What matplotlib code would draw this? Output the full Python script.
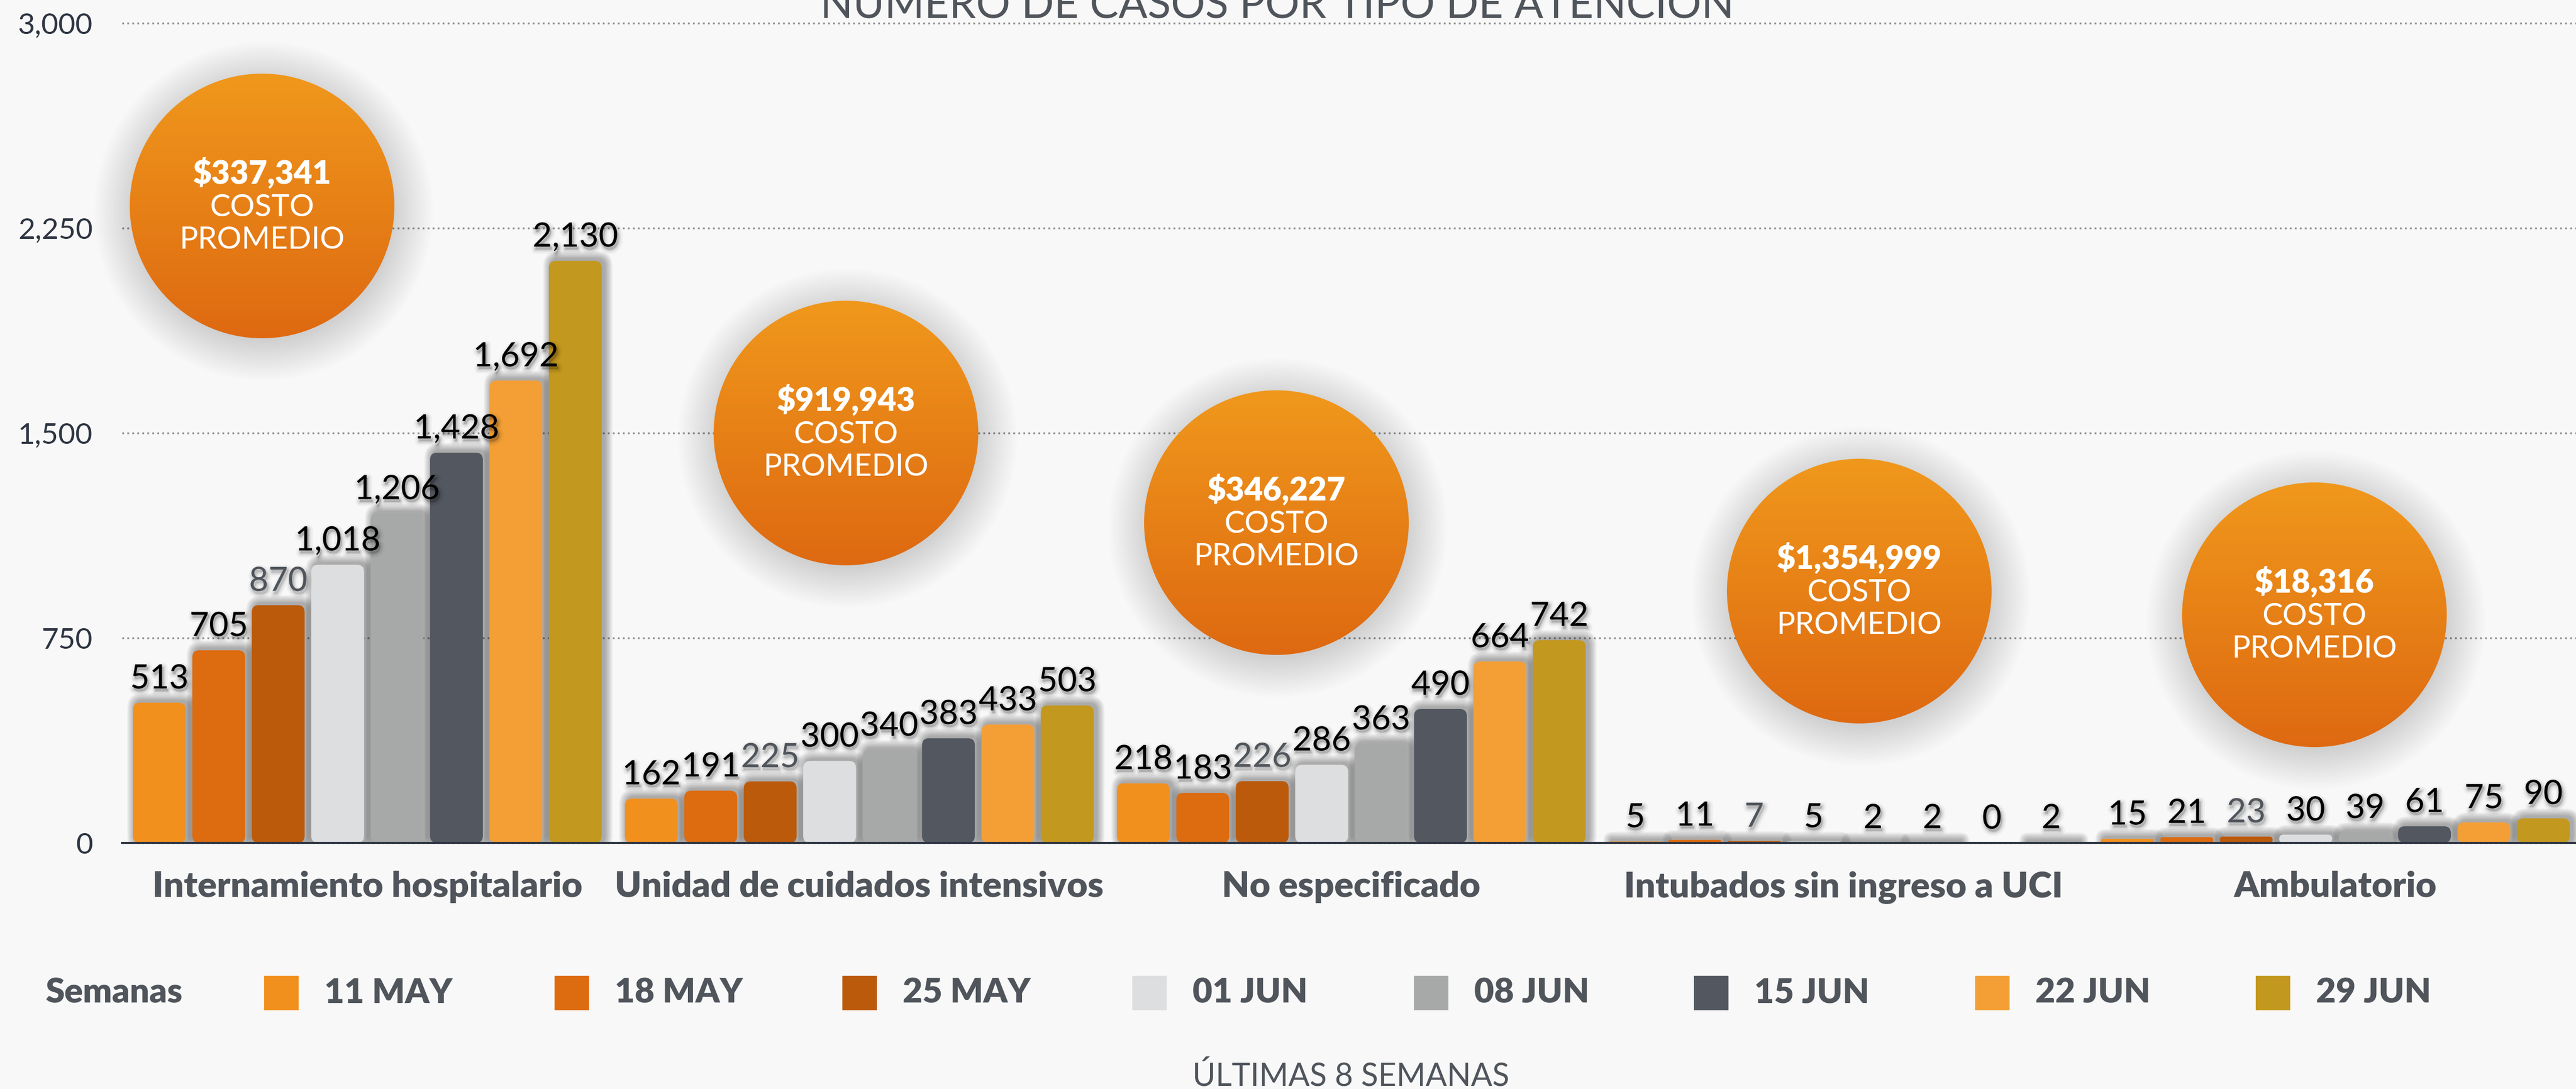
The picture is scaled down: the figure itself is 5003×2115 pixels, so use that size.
import matplotlib
matplotlib.use("Agg")
import matplotlib.pyplot as plt
import numpy as np
from matplotlib.patches import FancyBboxPatch, Circle, Rectangle
from matplotlib.colors import LinearSegmentedColormap
from matplotlib.ticker import FuncFormatter
from matplotlib.transforms import blended_transform_factory
from matplotlib import patheffects as pe

# Data
categories = ["Internamiento hospitalario", "Unidad de cuidados intensivos",
              "No especificado", "Intubados sin ingreso a UCI", "Ambulatorio"]
weeks = ["11 MAY", "18 MAY", "25 MAY", "01 JUN", "08 JUN", "15 JUN", "22 JUN", "29 JUN"]
week_colors = ["#F2901E", "#DD6B10", "#BC5A0C", "#DDDEE0", "#A6A9A8", "#525760", "#F49F35", "#C3981E"]

internamiento = [513, 705, 870, 1018, 1206, 1428, 1692, 2130]
uci = [162, 191, 225, 300, 340, 383, 433, 503]
no_especificado = [218, 183, 226, 286, 363, 490, 664, 742]
intubados = [5, 11, 7, 5, 2, 2, 0, 2]
ambulatorio = [15, 21, 23, 30, 39, 61, 75, 90]

avg_cost = [337341, 919943, 346227, 1354999, 18316]

y_ticks = [0, 750, 1500, 2250, 3000]

values = np.array([internamiento, uci, no_especificado, intubados, ambulatorio])

# Layout (pixels of the 5003x2115 canvas)
W, H = 5003, 2115
DPI = 100
BG = "#F8F8F8"
TEXT = "#50555C"
AXIS = "#2E3542"
ax_left, ax_top, ax_bottom = 237, 45, 1637
group_pitch = 8.28
bar_w = 0.89
x_min, x_max = -0.628, 40.67
circle_pos = [(509, 400), (1643, 841), (2479, 1015), (3611, 1148), (4495, 1194)]
circle_r = 257

plt.rcParams['font.family'] = ['Lato', 'DejaVu Sans']

fig = plt.figure(figsize=(W / DPI, H / DPI), dpi=DPI)
fig.patch.set_facecolor(BG)

ax = fig.add_axes([ax_left / W, (H - ax_bottom) / H, (W - ax_left) / W, (ax_bottom - ax_top) / H])
ax.set_facecolor("none")
ax.set_xlim(x_min, x_max)
ax.set_ylim(0, 3000)

# pixels per data unit, to keep the rounded corners round
px_x = (W - ax_left) / (x_max - x_min)
px_y = (ax_bottom - ax_top) / 3000.0
aspect = px_x / px_y


def rounded(x, y, w, h, r_px, **kw):
    rs = min(r_px / px_x, w / 2, h / aspect / 2)
    p = FancyBboxPatch((x, y), w, h, boxstyle=f"round,pad=0,rounding_size={rs}",
                       mutation_aspect=aspect, **kw)
    ax.add_patch(p)
    return p


label_fx = [pe.Stroke(offset=(2, -4), linewidth=12, foreground="black", alpha=0.035),
            pe.Stroke(offset=(2, -4), linewidth=7, foreground="black", alpha=0.06),
            pe.Stroke(offset=(2, -4), linewidth=3, foreground="black", alpha=0.08),
            pe.Normal()]

for j, week in enumerate(weeks):
    xs = np.arange(len(categories)) * group_pitch + j
    bars = ax.bar(xs, values[:, j], width=bar_w, color=week_colors[j], zorder=3)
    lab_color = TEXT if j == 2 else "black"
    ax.bar_label(bars, labels=[f"{v:,}" for v in values[:, j]], padding=12,
                 fontsize=47, color=lab_color, path_effects=label_fx, zorder=4)
    for rect in bars:
        rect.set_visible(False)
        x, y = rect.get_x(), rect.get_y()
        w, h = rect.get_width(), rect.get_height()
        if h <= 0:
            continue
        # soft shadow
        for k in range(1, 9):
            pad = 2.0 * k
            dx, dy = pad / px_x, pad / px_y
            rounded(x - dx + 5 / px_x, y - dy, w + 2 * dx, h + 2 * dy + 3 / px_y,
                    14 + pad, facecolor="black", edgecolor="none", alpha=0.045, zorder=2)
        rounded(x, y, w, h, 14, facecolor=week_colors[j], edgecolor="none", zorder=3)

# axes styling
ax.set_yticks(y_ticks)
ax.yaxis.set_major_formatter(FuncFormatter(lambda v, p: f"{int(v):,}"))
ax.tick_params(axis="y", length=0, pad=41, labelsize=41, labelcolor=AXIS)
ax.set_xticks([])
ax.grid(axis="y", color="#8F8F8F", linestyle=(0, (1, 1.8)), linewidth=2.5)
ax.set_axisbelow(True)
for line in ax.get_ygridlines():
    line.set_clip_on(False)
for s in ["top", "right", "left"]:
    ax.spines[s].set_visible(False)
ax.spines["bottom"].set_color(AXIS)
ax.spines["bottom"].set_linewidth(2.8)
ax.spines["bottom"].set_zorder(5)

trans = blended_transform_factory(ax.transData, ax.transAxes)
for g, cat in enumerate(categories):
    gc = g * group_pitch + 3.5
    ax.text(gc, -105 / (ax_bottom - ax_top), cat, transform=trans, ha="center", va="baseline",
            fontsize=50, fontweight="heavy", color=TEXT)

# overlay in canvas pixels for bubbles, legend and notes
ov = fig.add_axes([0, 0, 1, 1], zorder=5)
ov.patch.set_alpha(0)
ov.axis("off")

grad_cmap = LinearSegmentedColormap.from_list("bubble", ["#F0981C", "#DE6911"])
grad = np.linspace(0, 1, 256)[:, None]
for (cx, cy), cost in zip(circle_pos, avg_cost):
    for k in range(20, 0, -1):
        ov.add_patch(Circle((cx + 3, cy + 10), circle_r + 4 * k - 8, facecolor="black",
                            edgecolor="none", alpha=0.009, zorder=1))
    circ = Circle((cx, cy), circle_r, facecolor="none", edgecolor="none", zorder=1)
    ov.add_patch(circ)
    im = ov.imshow(grad, extent=(cx - circle_r, cx + circle_r, cy + circle_r, cy - circle_r),
                   cmap=grad_cmap, aspect="auto", origin="upper", interpolation="bilinear",
                   zorder=2)
    im.set_clip_path(circ)
    ov.text(cx, cy - 44, f"${cost:,}", ha="center", va="baseline", fontsize=45,
            fontweight="heavy", color="white", zorder=3)
    ov.text(cx, cy + 20, "COSTO", ha="center", va="baseline", fontsize=43, color="white", zorder=3)
    ov.text(cx, cy + 83, "PROMEDIO", ha="center", va="baseline", fontsize=43, color="white",
            zorder=3)

# legend
legend_x = [513, 1077, 1636, 2199, 2746, 3290, 3836, 4381]
ov.text(88, 1948, "Semanas", ha="left", va="baseline", fontsize=48, fontweight="heavy", color=TEXT)
for sx, week, col in zip(legend_x, weeks, week_colors):
    ov.add_patch(Rectangle((sx, 1895), 67, 67, facecolor=col, edgecolor="none"))
    ov.text(sx + 117, 1948, week, ha="left", va="baseline", fontsize=48,
            fontweight="heavy", color=TEXT)

ov.text(2624, 2110, "ÚLTIMAS 8 SEMANAS", ha="center", va="baseline", fontsize=44, color=TEXT)
ov.text(2480, 36, "NÚMERO DE CASOS POR TIPO DE ATENCIÓN", ha="center", va="baseline",
        fontsize=60, color=TEXT)

ov.set_xlim(0, W)
ov.set_ylim(H, 0)

fig.savefig("out.png", dpi=DPI, facecolor=BG)
